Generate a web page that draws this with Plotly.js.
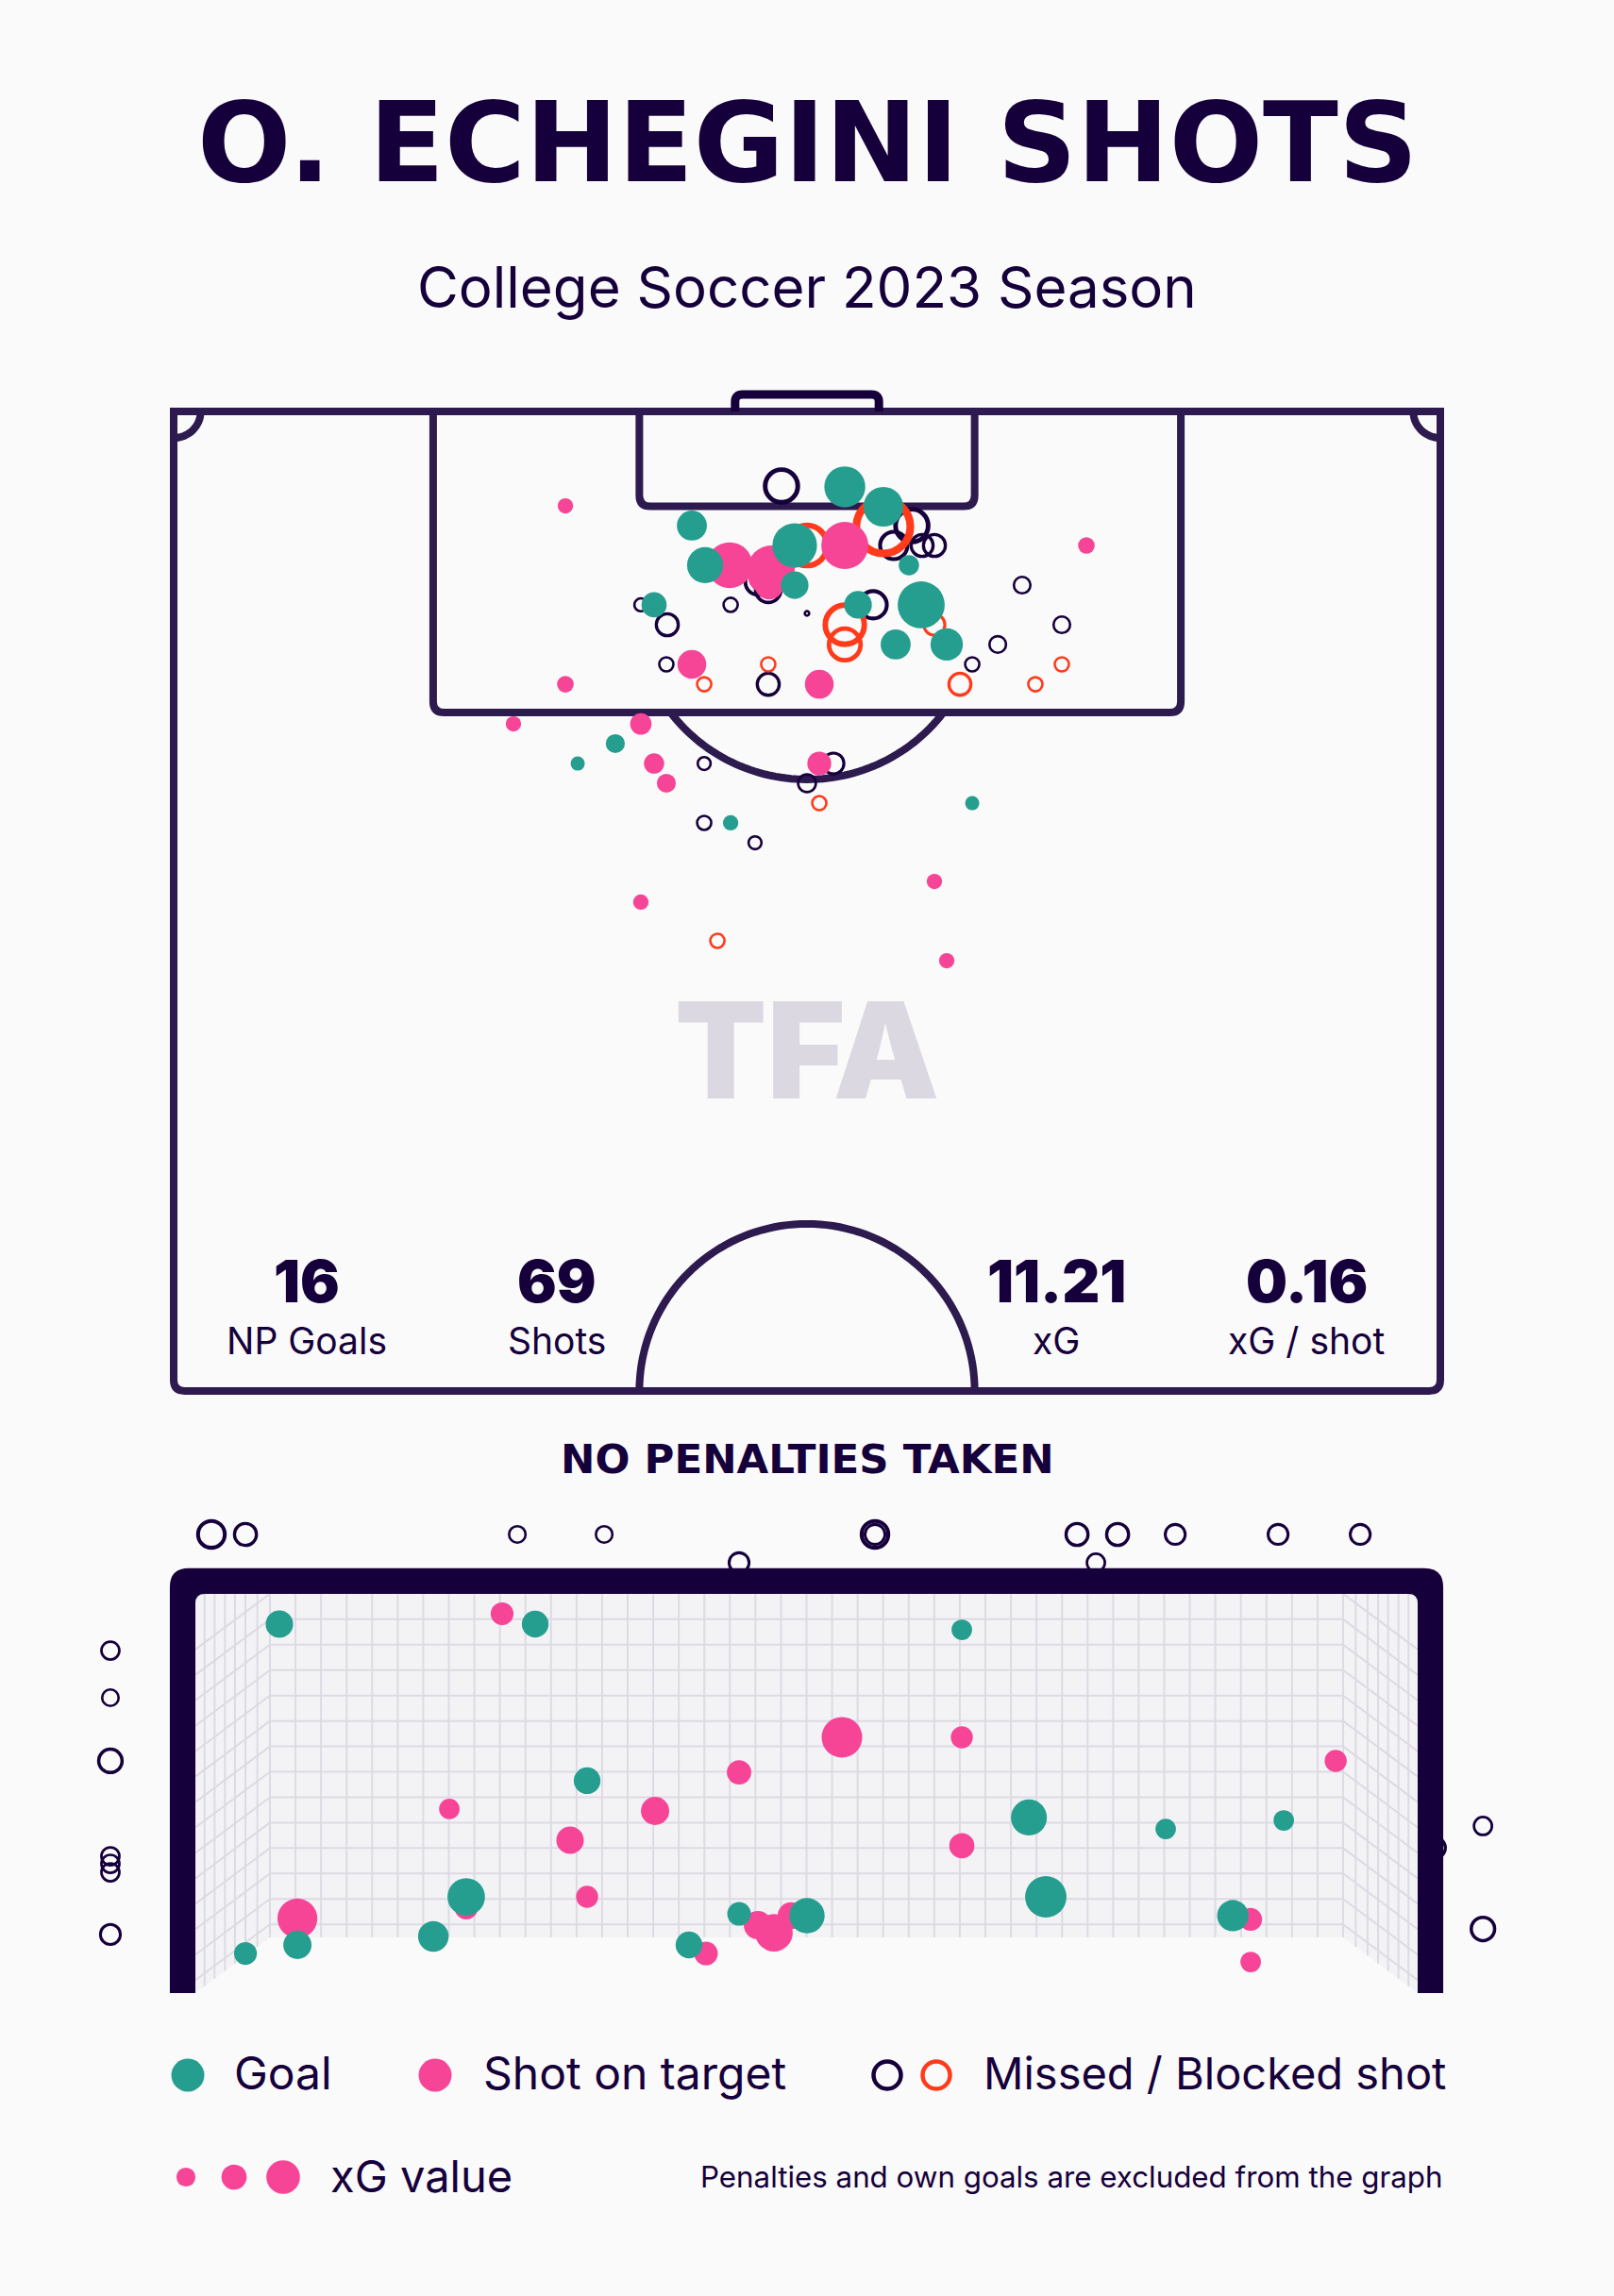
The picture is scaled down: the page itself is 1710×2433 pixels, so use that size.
<!DOCTYPE html>
<html>
<head>
<meta charset="utf-8">
<script src="https://cdn.plot.ly/plotly-3.0.1.min.js"></script>
<style>
html,body{margin:0;padding:0;background:#fafafa;}
#chart{width:1710px;height:2433px;}
</style>
</head>
<body>
<div id="chart"></div>
<script>
// ---------------- DATA ----------------
// Pitch view: x = metres across the pitch (0-68), y = metres out from the goal line
const goalShotX = [36.03,38.10,27.82,33.34,28.53,39.47,33.34,25.79,36.74,40.13,38.76,41.50,23.71,21.69,42.87,29.90];
const goalShotY = [4.13,5.22,6.25,7.34,8.42,8.42,9.51,10.59,10.59,10.59,12.76,12.76,18.19,19.28,21.45,22.53];
const goalShotXG = [0.29,0.28,0.20,0.32,0.25,0.12,0.18,0.16,0.18,0.34,0.20,0.22,0.11,0.07,0.07,0.08];

const onTargetX = [21.03,29.85,36.03,32.08,31.97,31.62,27.82,34.66,21.03,49.00,18.24,25.08,25.79,26.45,34.66,25.08,40.84,41.50];
const onTargetY = [5.17,8.42,7.34,8.63,9.51,9.10,13.85,14.94,14.94,7.34,17.11,17.11,19.28,20.36,19.28,26.87,25.74,30.08];
const onTargetXG = [0.08,0.33,0.34,0.34,0.19,0.19,0.19,0.19,0.09,0.09,0.08,0.13,0.12,0.11,0.15,0.08,0.08,0.08];

const missedX = [32.63,39.63,38.66,40.18,40.84,31.37,31.92,25.08,29.90,37.55,34.00,26.50,26.45,31.92,45.55,47.68,44.24,42.87,28.48,35.42,34.00,28.48,31.21];
const missedY = [4.08,6.25,7.34,7.34,7.34,9.35,9.77,10.59,10.59,10.59,11.06,11.68,13.85,14.94,9.51,11.68,12.76,13.85,19.28,19.28,20.36,22.53,23.62];
const missedXG = [0.26,0.26,0.21,0.16,0.16,0.19,0.19,0.08,0.09,0.21,0.01,0.16,0.09,0.16,0.11,0.11,0.11,0.09,0.08,0.15,0.12,0.09,0.08];

const blockedX = [38.10,34.00,36.03,36.03,40.84,31.92,28.48,42.21,47.68,46.26,34.66,29.19];
const blockedY = [6.30,7.34,11.68,12.76,11.68,13.85,14.94,14.94,13.85,14.94,21.45,28.99];
const blockedXG = [0.46,0.33,0.32,0.25,0.15,0.09,0.09,0.16,0.09,0.09,0.09,0.09];

// Goal-mouth view: y = metres from the left post, z = height in metres
const gmGoalY = [0.503,2.035,4.590,2.346,4.992,5.811,6.518,1.622,5.093,3.256,3.663,6.213,0.611,1.425,0.300,2.956];
const gmGoalZ = [2.255,2.255,2.220,1.298,1.073,1.003,1.055,0.588,0.588,0.484,0.473,0.473,0.294,0.346,0.242,0.294];
const gmGoalXG = [0.16,0.15,0.07,0.15,0.27,0.07,0.07,0.29,0.34,0.11,0.26,0.21,0.17,0.20,0.10,0.15];

const gmOnTargetY = [1.837,3.872,4.590,3.256,6.829,1.521,2.753,2.244,4.590,2.346,0.611,1.622,3.369,3.465,3.567,3.058,6.320,6.320];
const gmOnTargetZ = [2.318,1.563,1.563,1.349,1.419,1.125,1.113,0.934,0.900,0.588,0.456,0.519,0.415,0.369,0.473,0.242,0.450,0.190];
const gmOnTargetXG = [0.10,0.33,0.09,0.12,0.09,0.07,0.17,0.16,0.13,0.09,0.32,0.10,0.17,0.29,0.15,0.11,0.10,0.07];

const gmMissedY = [0.096,0.300,1.928,2.448,4.070,4.070,5.280,5.523,5.868,6.484,6.976,3.256,5.393,-0.509,-0.509,-0.509,-0.509,-0.509,-0.509,-0.509,7.711,7.422,7.711];
const gmMissedZ = [2.803,2.803,2.803,2.803,2.803,2.803,2.803,2.803,2.803,2.803,2.803,2.630,2.630,2.093,1.805,1.419,0.836,0.790,0.738,0.358,1.021,0.888,0.392];
const gmMissedXG = [0.20,0.13,0.05,0.05,0.20,0.10,0.13,0.13,0.10,0.10,0.10,0.10,0.07,0.07,0.05,0.15,0.07,0.07,0.07,0.10,0.07,0.12,0.15];

const statValues = ['16','69','11.21','0.16'];
const statLabels = ['NP Goals','Shots','xG','xG / shot'];
const legendLabels = ['Goal','Shot on target','Missed / Blocked shot','xG value'];
const legendXG = [0.11,0.16,0.23];

// ---------------- STYLE ----------------
const W = 1710, H = 2433;
const INK = '#16003b', LINE = '#2d1a4e';
const TEAL = '#269e8f', PINK = '#f64597', RED = '#ff3b1c';
const NET_BG = '#f3f3f6', NET_LINE = '#dddae3', WATERMARK = '#dbd8e1';
const FONT = 'Inter, "Open Sans", sans-serif';
const WIDE = '"DejaVu Sans", Inter, sans-serif';

const pitchSize = xg => 6 + 129 * xg;
const goalSize = xg => 16 + 82 * xg;
const ringW = d => Math.max(2.6, 0.125 * d);

function filled(x, y, xg, sizeFn, color, xa, ya) {
  return {type:'scatter', mode:'markers', x, y, xaxis:xa, yaxis:ya, hoverinfo:'skip', showlegend:false, cliponaxis:false,
    marker:{symbol:'circle', size: xg.map(sizeFn), color, opacity:1, line:{width:0}}};
}
function rings(x, y, xg, sizeFn, color, xa, ya) {
  const d = xg.map(sizeFn);
  const lw = d.map(ringW);
  return {type:'scatter', mode:'markers', x, y, xaxis:xa, yaxis:ya, hoverinfo:'skip', showlegend:false, cliponaxis:false,
    marker:{symbol:'circle-open', size: d.map((v,i)=>v-lw[i]), color, opacity:1, line:{width:lw, color}}};
}

// ---------------- GEOMETRY (pitch furniture) ----------------
const PW = 68, HL = 53.64, CX = 34;
const BOX_HW = 20.07, BOX_D = 16.49, SIX_HW = 9.0, SIX_D = 5.2, GOAL_HW = 3.86, GOAL_D = 0.93;
const PEN = 11, ARC_R = 9.15, CORNER_R = 1.45, RC = 0.6;

function path(pts){ return 'M ' + pts.map(p => p[0].toFixed(3) + ',' + p[1].toFixed(3)).join(' L '); }
function arc(cx, cy, rx, ry, a0, a1, n){ const p=[]; for(let i=0;i<=n;i++){const a=a0+(a1-a0)*i/n; p.push([cx+rx*Math.cos(a), cy+ry*Math.sin(a)]);} return p; }

const pl = (d, extra) => Object.assign({type:'path', xref:'x', yref:'y', path:d, line:{color:LINE, width:8}, layer:'below'}, extra||{});

const shapes = [];
shapes.push(pl(`M 0,0 L 0,${HL-RC} Q 0,${HL} ${RC},${HL} L ${PW-RC},${HL} Q ${PW},${HL} ${PW},${HL-RC} L ${PW},0 Z`));
shapes.push(pl(`M ${CX-BOX_HW},0 L ${CX-BOX_HW},${BOX_D-RC} Q ${CX-BOX_HW},${BOX_D} ${CX-BOX_HW+RC},${BOX_D} L ${CX+BOX_HW-RC},${BOX_D} Q ${CX+BOX_HW},${BOX_D} ${CX+BOX_HW},${BOX_D-RC} L ${CX+BOX_HW},0`));
shapes.push(pl(`M ${CX-SIX_HW},0 L ${CX-SIX_HW},${SIX_D-RC} Q ${CX-SIX_HW},${SIX_D} ${CX-SIX_HW+RC},${SIX_D} L ${CX+SIX_HW-RC},${SIX_D} Q ${CX+SIX_HW},${SIX_D} ${CX+SIX_HW},${SIX_D-RC} L ${CX+SIX_HW},0`));
shapes.push(pl(`M ${CX-GOAL_HW},0 L ${CX-GOAL_HW},${-GOAL_D+0.4} Q ${CX-GOAL_HW},${-GOAL_D} ${CX-GOAL_HW+0.4},${-GOAL_D} L ${CX+GOAL_HW-0.4},${-GOAL_D} Q ${CX+GOAL_HW},${-GOAL_D} ${CX+GOAL_HW},${-GOAL_D+0.4} L ${CX+GOAL_HW},0`, {line:{color:INK, width:9}}));
shapes.push(pl(path(arc(0, 0, CORNER_R, CORNER_R, 0, Math.PI/2, 20))));
shapes.push(pl(path(arc(PW, 0, CORNER_R, CORNER_R, Math.PI/2, Math.PI, 20))));
const a0 = Math.asin((BOX_D-PEN)/ARC_R);
shapes.push(pl(path(arc(CX, PEN, ARC_R, ARC_R, a0, Math.PI-a0, 60))));
shapes.push(pl(path(arc(CX, HL, 9.0, -ARC_R, 0, Math.PI, 80))));

// ---------------- GEOMETRY (goal frame + net) ----------------
const GW = 7.32, GH = 2.44, POST = 0.153, BAR = 0.156, RO = 0.115, RI = 0.057;
const BL = 0.4466, BR = GW - 0.4466, BB = 0.3403;
shapes.push({type:'path', xref:'x2', yref:'y2', layer:'below', line:{width:0}, fillcolor:NET_BG,
  path:`M 0,${GH} L ${GW},${GH} L ${GW},0 L ${BR},${BB} L ${BL},${BB} L 0,0 Z`});
const T = GH + BAR;
shapes.push({type:'path', xref:'x2', yref:'y2', layer:'above', line:{width:0}, fillcolor:INK, fillrule:'evenodd',
  path:`M ${-POST},0 L ${-POST},${T-RO} Q ${-POST},${T} ${-POST+RO},${T} L ${GW+POST-RO},${T} Q ${GW+POST},${T} ${GW+POST},${T-RO} L ${GW+POST},0 Z ` +
       `M 0,0 L 0,${GH-RI} Q 0,${GH} ${RI},${GH} L ${GW-RI},${GH} Q ${GW},${GH} ${GW},${GH-RI} L ${GW},0 Z`});

const gx = [], gy = [];
for (let k = 0; k <= 42; k++) { const x = BL + (BR-BL)*k/42; gx.push(x, x, null); gy.push(BB, GH, null); }
for (let k = 0; k <= 13; k++) {
  const y = GH - k*0.1554;
  if (k > 0) { gx.push(BL, BR, null); gy.push(y, y, null); }
  gx.push(BL, 0, null); gy.push(y, y-BB, null);
  gx.push(BR, GW, null); gy.push(y, y-BB, null);
}
[0.055,0.115,0.177,0.237,0.300,0.371].forEach(x => {
  const yb = BB*x/BL;
  gx.push(x, x, null); gy.push(yb, GH, null);
  gx.push(GW-x, GW-x, null); gy.push(yb, GH, null);
});
const netTrace = {type:'scatter', mode:'lines', x:gx, y:gy, xaxis:'x2', yaxis:'y2', hoverinfo:'skip', showlegend:false,
  line:{color:NET_LINE, width:2}};

// ---------------- LEGEND MARKERS (pixel overlay axis) ----------------
const legTraces = [
  {type:'scatter', mode:'markers', x:[199], y:[2199], xaxis:'x3', yaxis:'y3', hoverinfo:'skip', showlegend:false, marker:{size:35, color:TEAL, opacity:1, line:{width:0}}},
  {type:'scatter', mode:'markers', x:[461], y:[2199], xaxis:'x3', yaxis:'y3', hoverinfo:'skip', showlegend:false, marker:{size:35, color:PINK, opacity:1, line:{width:0}}},
  {type:'scatter', mode:'markers', x:[940], y:[2199], xaxis:'x3', yaxis:'y3', hoverinfo:'skip', showlegend:false, marker:{symbol:'circle-open', size:29, color:INK, opacity:1, line:{width:4.5, color:INK}}},
  {type:'scatter', mode:'markers', x:[992], y:[2199], xaxis:'x3', yaxis:'y3', hoverinfo:'skip', showlegend:false, marker:{symbol:'circle-open', size:29, color:RED, opacity:1, line:{width:4.5, color:RED}}},
  {type:'scatter', mode:'markers', x:[197,248,300], y:[2307,2307,2307], xaxis:'x3', yaxis:'y3', hoverinfo:'skip', showlegend:false, marker:{size:legendXG.map(pitchSize), color:PINK, opacity:1, line:{width:0}}}
];

// ---------------- TEXT ----------------
function ann(text, px, py, size, weight, extra, family) {
  return Object.assign({xref:'paper', yref:'paper', x:px/W, y:1-py/H, text, showarrow:false, xanchor:'center', yanchor:'middle',
    font:{family:family||FONT, size, weight, color:INK}}, extra||{});
}
const statX = [325, 590, 1119, 1384];
const annotations = [
  ann('O. ECHEGINI SHOTS', 855, 152, 117, 700, null, WIDE),
  ann('College Soccer 2023 Season', 855, 304, 60, 400),
  ann('TFA', 855, 1112, 142, 900, {font:{family:FONT, size:142, weight:900, color:WATERMARK}}),
  ann('NO PENALTIES TAKEN', 855, 1546, 43.5, 700, null, WIDE),
  ann(legendLabels[0], 246, 2196, 48, 400, {xanchor:'left'}),
  ann(legendLabels[1], 510, 2196, 48, 400, {xanchor:'left'}),
  ann(legendLabels[2], 1040, 2196, 47, 400, {xanchor:'left'}),
  ann(legendLabels[3], 348, 2305, 47, 400, {xanchor:'left'}),
  ann('Penalties and own goals are excluded from the graph', 1530, 2307, 31.3, 400, {xanchor:'right'})
];
statValues.forEach((v,i) => annotations.push(ann(v, statX[i], 1357, 62, 900)));
statLabels.forEach((v,i) => annotations.push(ann(v, statX[i], 1420, 39, 400)));

// ---------------- TRACES ----------------
const traces = [
  netTrace,
  rings(missedX, missedY, missedXG, pitchSize, INK, 'x', 'y'),
  rings(blockedX, blockedY, blockedXG, pitchSize, RED, 'x', 'y'),
  filled(onTargetX, onTargetY, onTargetXG, pitchSize, PINK, 'x', 'y'),
  filled(goalShotX, goalShotY, goalShotXG, pitchSize, TEAL, 'x', 'y'),
  rings(gmMissedY, gmMissedZ, gmMissedXG, goalSize, INK, 'x2', 'y2'),
  filled(gmOnTargetY, gmOnTargetZ, gmOnTargetXG, goalSize, PINK, 'x2', 'y2'),
  filled(gmGoalY, gmGoalZ, gmGoalXG, goalSize, TEAL, 'x2', 'y2'),
  ...legTraces
];

const hidden = {visible:false, showgrid:false, zeroline:false, fixedrange:true};
const layout = {
  width:W, height:H, margin:{l:0, r:0, t:0, b:0}, paper_bgcolor:'#fafafa', plot_bgcolor:'rgba(0,0,0,0)', showlegend:false,
  xaxis: Object.assign({domain:[0,1], range:[-184/19.735, 68+184/19.735], anchor:'y'}, hidden),
  yaxis: Object.assign({domain:[1-1500/H, 1-380/H], range:[(1500-436)/19.35, (380-436)/19.35], anchor:'x'}, hidden),
  xaxis2: Object.assign({domain:[0,1], range:[-207/176.9, 7.32+208/176.9], anchor:'y2'}, hidden),
  yaxis2: Object.assign({domain:[1-2125/H, 1-1580/H], range:[(2112-2125)/173.4, (2112-1580)/173.4], anchor:'x2'}, hidden),
  xaxis3: Object.assign({domain:[0,1], range:[0,W], anchor:'y3'}, hidden),
  yaxis3: Object.assign({domain:[0,1], range:[H,0], anchor:'x3'}, hidden),
  shapes, annotations
};

Plotly.newPlot('chart', traces, layout, {displayModeBar:false, staticPlot:true});
</script>
</body>
</html>
